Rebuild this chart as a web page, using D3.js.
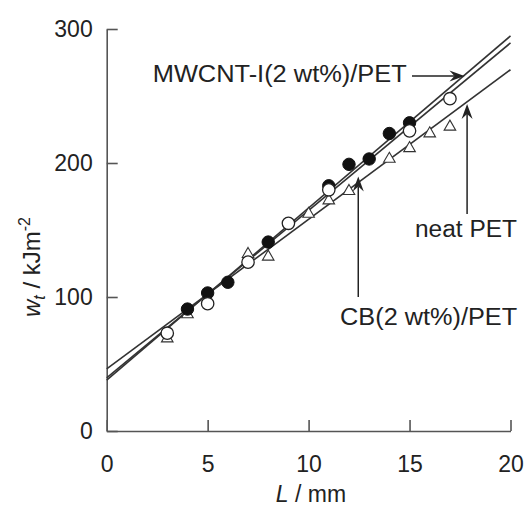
<!DOCTYPE html>
<html><head><meta charset="utf-8">
<script src="https://cdn.jsdelivr.net/npm/d3@7"></script>
<style>
html,body{margin:0;padding:0;background:#fff;}
svg{display:block;font-family:"Liberation Sans",Arial,Helvetica,sans-serif;}
</style></head>
<body><svg id="c" width="526" height="508"></svg>
<script>
// ---- data ----
const mwcntL = [4, 5, 6, 8, 11, 12, 13, 14, 15];
const mwcntW = [91, 103, 111, 141, 183, 199, 203, 222, 230];
const cbL = [3, 5, 7, 9, 11, 15, 17];
const cbW = [73, 95, 126, 155, 180, 224, 248];
const neatL = [3, 4, 7, 8, 10, 11, 12, 14, 15, 16, 17];
const neatW = [69, 87, 132, 130, 162, 172, 179, 203, 211, 222, 227];
const fitL = [0, 20];
const fitMwcnt = [38, 294.8];
const fitCb = [39.6, 289.6];
const fitNeat = [46.3, 269.6];
const xTicks = [0, 5, 10, 15, 20];
const yTicks = [0, 100, 200, 300];

const svg = d3.select("#c");
const x = d3.scaleLinear().domain([0, 20]).range([106.7, 510.5]);
const y = d3.scaleLinear().domain([0, 300]).range([431, 29]);
const axisCol = "#555";
const FS = 23;

// axes
const gx = svg.append("g").attr("transform", `translate(0,${y(0)})`)
  .call(d3.axisBottom(x).tickValues(xTicks).tickSizeInner(-11).tickSizeOuter(0).tickPadding(25).tickFormat(d3.format("d")));
const gy = svg.append("g").attr("transform", `translate(${x(0)},0)`)
  .call(d3.axisLeft(y).tickValues(yTicks).tickSizeInner(-11).tickSizeOuter(0).tickPadding(14).tickFormat(d3.format("d")));
[gx, gy].forEach(g => {
  g.select(".domain").attr("stroke", axisCol).attr("stroke-width", 1.6);
  g.selectAll(".tick line").attr("stroke", axisCol).attr("stroke-width", 1.6);
  g.selectAll(".tick text").attr("font-size", FS).attr("fill", "#222")
   .attr("font-family", "Liberation Sans, Arial, sans-serif");
});

// fit lines
const line = d3.line().x(d => x(d[0])).y(d => y(d[1]));
[fitMwcnt, fitCb, fitNeat].forEach(f => {
  svg.append("path").datum(fitL.map((l, i) => [l, f[i]]))
    .attr("d", line).attr("fill", "none").attr("stroke", "#333").attr("stroke-width", 1.6);
});

// markers: triangles, filled, open
const tri = d3.symbol().type(d3.symbolTriangle).size(58);
svg.append("g").selectAll("path").data(neatL.map((l, i) => [l, neatW[i]])).join("path")
  .attr("d", tri).attr("transform", d => `translate(${x(d[0])},${y(d[1])})`)
  .attr("fill", "#fff").attr("stroke", "#333").attr("stroke-width", 1.1);
svg.append("g").selectAll("circle").data(mwcntL.map((l, i) => [l, mwcntW[i]])).join("circle")
  .attr("cx", d => x(d[0])).attr("cy", d => y(d[1])).attr("r", 6.2)
  .attr("fill", "#111").attr("stroke", "#111");
svg.append("g").selectAll("circle").data(cbL.map((l, i) => [l, cbW[i]])).join("circle")
  .attr("cx", d => x(d[0])).attr("cy", d => y(d[1])).attr("r", 6.2)
  .attr("fill", "#fff").attr("stroke", "#222").attr("stroke-width", 1.3);

// arrows
function arrow(x1, y1, x2, y2) {
  const px1 = x(x1), py1 = y(y1), px2 = x(x2), py2 = y(y2);
  const a = Math.atan2(py2 - py1, px2 - px1);
  const L = 15, W = 5.5, N = 10;
  const bx = px2 - L * Math.cos(a), by = py2 - L * Math.sin(a);
  const nx = px2 - N * Math.cos(a), ny = py2 - N * Math.sin(a);
  svg.append("line").attr("x1", px1).attr("y1", py1).attr("x2", nx).attr("y2", ny)
    .attr("stroke", "#222").attr("stroke-width", 1.5);
  const pts = [[px2, py2],
    [bx + W * Math.sin(a), by - W * Math.cos(a)],
    [nx, ny],
    [bx - W * Math.sin(a), by + W * Math.cos(a)]];
  svg.append("path").attr("d", "M" + pts.map(p => p.join(",")).join("L") + "Z").attr("fill", "#222");
}
arrow(15.12, 265, 17.72, 265);
arrow(12.46, 100, 12.46, 190);
arrow(17.85, 162, 17.85, 244);

function label(txt, x0, yb, w) {
  svg.append("text").attr("x", x(x0)).attr("y", y(yb)).attr("font-size", FS).attr("fill", "#222")
    .attr("textLength", w).attr("lengthAdjust", "spacingAndGlyphs").text(txt);
}
label("MWCNT-I(2 wt%)/PET", 2.28, 260.5, 254);
label("neat PET", 15.27, 144.8, 102);
label("CB(2 wt%)/PET", 11.56, 79, 177);

// axis titles
const xt = svg.append("text").attr("x", 311).attr("y", 502).attr("text-anchor", "middle")
  .attr("font-size", FS).attr("fill", "#222");
xt.append("tspan").attr("font-style", "italic").text("L");
xt.append("tspan").text(" / mm");

const yt = svg.append("text").attr("transform", "translate(40,267) rotate(-90)")
  .attr("text-anchor", "middle").attr("font-size", 24).attr("fill", "#222");
yt.append("tspan").attr("font-style", "italic").text("w");
yt.append("tspan").attr("font-style", "italic").attr("font-size", 16).attr("dy", 5).text("t");
yt.append("tspan").attr("dy", -5).text(" / kJm");
yt.append("tspan").attr("font-size", 16).attr("dy", -10).text("-2");
</script></body></html>
